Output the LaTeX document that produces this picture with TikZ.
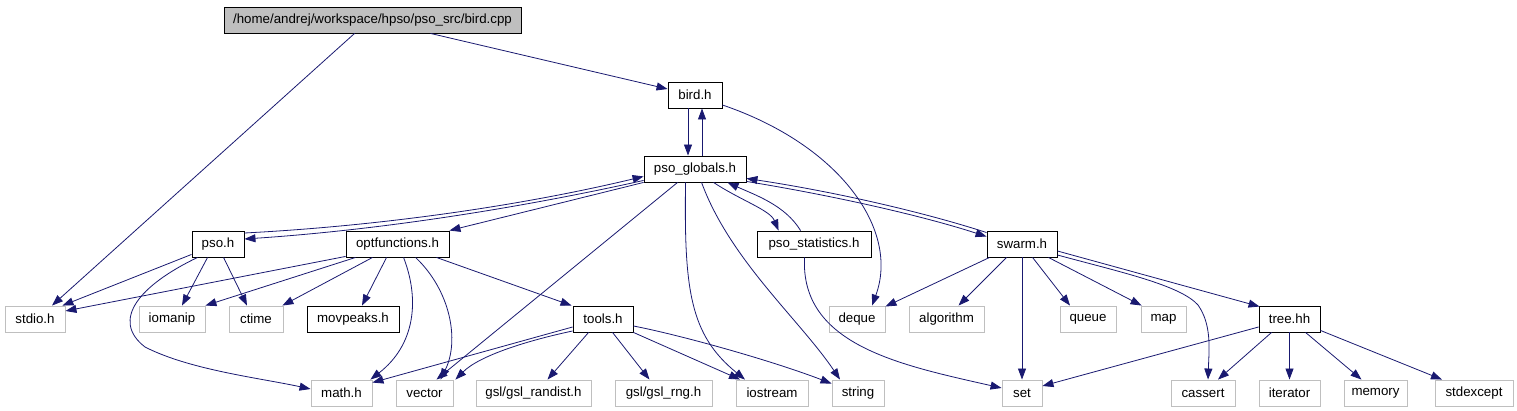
\documentclass[tikz,border=0pt]{standalone}
\usepackage{fontspec}
\setmainfont{Liberation Sans}
\usetikzlibrary{calc,arrows.meta}
\definecolor{edgeblue}{HTML}{191970}
\definecolor{sysgray}{HTML}{BFBFBF}
\newcommand\nodefont{\fontsize{13.3}{16}\selectfont}
\tikzset{
  nbox/.style={draw=black, line width=0.9pt, minimum height=26pt, inner sep=0pt, font=\nodefont, text=black},
  hbox/.style={nbox},
  sbox/.style={nbox, draw=sysgray},
  mainbox/.style={nbox, fill=sysgray},
  edge/.style={draw=edgeblue, line width=0.8pt, -{Triangle[length=11pt,width=8pt]}, fill=none},
}
\begin{document}
\begin{tikzpicture}[x=1pt,y=-1pt]
\useasboundingbox (0,0) rectangle (1517,411);
% nodes
\node[mainbox, minimum width=297pt] (cpp) at (372.5,20) {/home/andrej/workspace/hpso/pso\_src/bird.cpp};
\node[hbox, minimum width=54pt] (birdh) at (695,95) {bird.h};
\node[hbox, minimum width=102pt] (glob) at (695,169) {pso\_globals.h};
\node[hbox, minimum width=52pt] (psoh) at (218,244) {pso.h};
\node[hbox, minimum width=103pt] (optf) at (397.5,244) {optfunctions.h};
\node[hbox, minimum width=114pt] (stat) at (814,244) {pso\_statistics.h};
\node[hbox, minimum width=70pt] (swarm) at (1022,244) {swarm.h};
\node[sbox, minimum width=60pt] (stdio) at (35,319) {stdio.h};
\node[sbox, minimum width=66pt] (iomanip) at (172,319) {iomanip};
\node[sbox, minimum width=54pt] (ctime) at (256,319) {ctime};
\node[hbox, minimum width=92pt] (movpeaks) at (353,319) {movpeaks.h};
\node[hbox, minimum width=60pt] (tools) at (603,319) {tools.h};
\node[sbox, minimum width=56pt] (deque) at (857,319) {deque};
\node[sbox, minimum width=75pt] (algorithm) at (946.5,319) {algorithm};
\node[sbox, minimum width=56pt] (queue) at (1088,319) {queue};
\node[sbox, minimum width=45pt] (map) at (1163.5,319) {map};
\node[hbox, minimum width=61pt] (tree) at (1289.5,319) {tree.hh};
\node[sbox, minimum width=61pt] (math) at (341.5,393) {math.h};
\node[sbox, minimum width=57pt] (vector) at (424.5,393) {vector};
\node[sbox, minimum width=115pt] (randist) at (533.5,393) {gsl/gsl\_randist.h};
\node[sbox, minimum width=97pt] (rng) at (663.5,393) {gsl/gsl\_rng.h};
\node[sbox, minimum width=72pt] (iostream) at (772,393) {iostream};
\node[sbox, minimum width=52pt] (string) at (858,393) {string};
\node[sbox, minimum width=40pt] (set) at (1022,393) {set};
\node[sbox, minimum width=64pt] (cassert) at (1203,393) {cassert};
\node[sbox, minimum width=61pt] (iterator) at (1289.5,393) {iterator};
\node[sbox, minimum width=63pt] (memory) at (1375.5,393) {memory};
\node[sbox, minimum width=78pt] (stdexcept) at (1474,393) {stdexcept};
% edges
\draw[edge] ($(cpp.south west)+(131,0)$) -- ($(stdio.north)+(17,0)$);
\draw[edge] ($(cpp.south west)+(207,0)$) -- ($(birdh.west)+(0,-6)$);
\draw[edge] ($(birdh.south)+(-7,0)$) -- ($(glob.north)+(-7,0)$);
\draw[edge] ($(glob.north)+(7,0)$) -- ($(birdh.south)+(7,0)$);
\draw[edge] ($(birdh.east)+(0,10)$) .. controls (840,145) and (900,230) .. ($(deque.north)+(15,0)$);
\draw[edge] ($(psoh.east)+(0,-11)$) .. controls (380,226) and (520,206) .. ($(glob.south west)+(0,-6)$);
\draw[edge] ($(glob.south west)+(0,-2)$) .. controls (520,208) and (380,230) .. ($(psoh.east)+(0,-5)$);
\draw[edge] (glob.south west) -- (optf.north east);
\draw[edge] ($(glob.south west)+(70,0)$) .. controls (740,200) and (770,210) .. ($(stat.north west)+(22,0)$);
\draw[edge] ($(stat.north west)+(44,0)$) .. controls (785,205) and (755,195) .. ($(glob.south west)+(84,0)$);
\draw[edge] ($(glob.south east)+(0,-1)$) .. controls (830,195) and (920,215) .. ($(swarm.north west)+(0,6)$);
\draw[edge] ($(swarm.north west)+(0,2)$) .. controls (920,211) and (830,191) .. ($(glob.south east)+(0,-4)$);
\draw[edge] ($(glob.south west)+(34,0)$) -- ($(vector.north)+(12,0)$);
\draw[edge] ($(glob.south west)+(42,0)$) .. controls (684,290) and (690,335) .. ($(iostream.north)+(-27,0)$);
\draw[edge] ($(glob.south west)+(58,0)$) .. controls (730,260) and (800,320) .. ($(string.north)+(-18,0)$);
\draw[edge] ($(stat.south west)+(48,0)$) .. controls (800,345) and (900,365) .. ($(set.west)+(0,-5)$);
\draw[edge] ($(psoh.south west)+(0,-3)$) -- ($(stdio.north east)+(-3,0)$);
\draw[edge] ($(psoh.south west)+(16,0)$) -- ($(iomanip.north)+(10,0)$);
\draw[edge] ($(psoh.south west)+(32,0)$) -- ($(ctime.north)+(-9,0)$);
\draw[edge] ($(psoh.south west)+(6,0)$) .. controls (140,285) and (110,320) .. (145,347) .. controls (190,370) and (260,378) .. ($(math.west)+(0,-4)$);
\draw[edge] ($(optf.south west)+(0,-1)$) -- ($(stdio.east)+(0,-8)$);
\draw[edge] ($(optf.south west)+(10,0)$) -- (iomanip.north east);
\draw[edge] ($(optf.south west)+(27,0)$) -- ($(ctime.north east)+(-1,0)$);
\draw[edge] ($(optf.south west)+(41,0)$) -- ($(movpeaks.north)+(9,0)$);
\draw[edge] ($(optf.south west)+(58,0)$) .. controls (420,300) and (415,345) .. ($(math.north east)+(-2,0)$);
\draw[edge] ($(optf.south west)+(70,0)$) .. controls (450,290) and (460,340) .. ($(vector.north)+(16,0)$);
\draw[edge] ($(optf.south east)+(-13,0)$) -- ($(tools.north west)+(-1,0)$);
\draw[edge] ($(tools.west)+(0,8)$) -- ($(math.north east)+(0,3)$);
\draw[edge] ($(tools.west)+(0,12)$) .. controls (530,340) and (480,355) .. ($(vector.north east)+(2,0)$);
\draw[edge] ($(tools.south west)+(16,0)$) -- ($(randist.north)+(14,0)$);
\draw[edge] ($(tools.south west)+(40,0)$) -- ($(rng.north)+(-14,0)$);
\draw[edge] (tools.south east) -- ($(iostream.north)+(-32,0)$);
\draw[edge] ($(tools.east)+(0,7)$) .. controls (680,335) and (770,360) .. ($(string.north west)+(0,4)$);
\draw[edge] ($(swarm.south west)+(3,0)$) -- ($(deque.north east)+(0,1)$);
\draw[edge] ($(swarm.south west)+(20,0)$) -- ($(algorithm.north)+(12,0)$);
\draw[edge] (swarm.south) -- (set.north);
\draw[edge] ($(swarm.south west)+(46,0)$) -- ($(queue.north)+(-18,0)$);
\draw[edge] ($(swarm.south east)+(-9,0)$) -- ($(map.north west)+(1,0)$);
\draw[edge] ($(swarm.east)+(0,7)$) -- ($(tree.north west)+(1,1)$);
\draw[edge] ($(swarm.east)+(0,11)$) .. controls (1120,272) and (1180,285) .. (1198,305) .. controls (1212,325) and (1209,350) .. ($(cassert.north)+(5,0)$);
\draw[edge] ($(tree.west)+(0,8)$) -- ($(set.east)+(0,-7)$);
\draw[edge] ($(tree.south west)+(13,0)$) -- ($(cassert.north)+(15,0)$);
\draw[edge] (tree.south) -- (iterator.north);
\draw[edge] ($(tree.south west)+(47,0)$) -- ($(memory.north)+(-14,0)$);
\draw[edge] ($(tree.south east)+(0,-2)$) -- ($(stdexcept.north)+(-32,0)$);
\end{tikzpicture}
\end{document}
